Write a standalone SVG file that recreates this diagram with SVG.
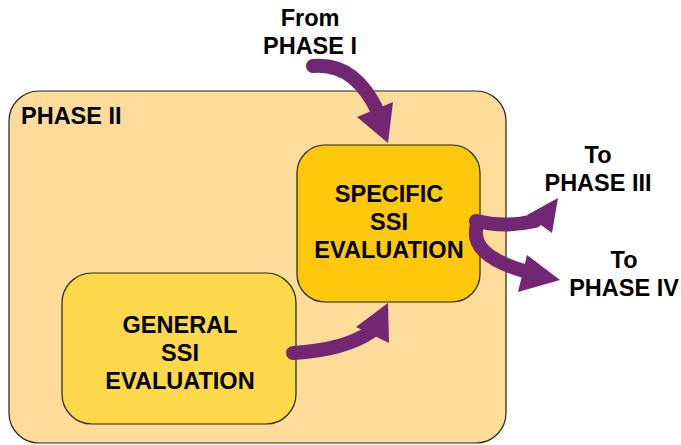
<svg xmlns="http://www.w3.org/2000/svg" width="681" height="445" viewBox="0 0 681 445">
  <style>
    .lbl { font-family: "Liberation Sans", Arial, sans-serif; font-weight: bold; font-size: 23.5px; fill: #000; }
    .mid { text-anchor: middle; }
    .box { stroke: #222; stroke-width: 1.2; }
    .shaft { fill: none; stroke: #722773; stroke-width: 14; stroke-linecap: round; }
    .head { fill: #722773; }
  </style>
  <rect width="681" height="445" fill="#ffffff"/>

  <g id="phase2">
    <rect class="box" x="9" y="91" width="497" height="352" rx="30" fill="#FDDB98"/>
    <text class="lbl" x="21" y="124">PHASE II</text>
  </g>

  <g id="specific">
    <rect class="box" x="297" y="145" width="183" height="157" rx="28" fill="#FDC80C"/>
    <text class="lbl mid" x="389" y="202">SPECIFIC</text>
    <text class="lbl mid" x="389" y="230">SSI</text>
    <text class="lbl mid" x="389" y="258">EVALUATION</text>
  </g>

  <g id="general">
    <rect class="box" x="62" y="273" width="234" height="151" rx="30" fill="#FCD84A"/>
    <text class="lbl mid" x="180" y="333">GENERAL</text>
    <text class="lbl mid" x="180" y="361">SSI</text>
    <text class="lbl mid" x="180" y="389">EVALUATION</text>
  </g>

  <g id="from-phase1">
    <text class="lbl mid" x="310" y="26">From</text>
    <text class="lbl mid" x="310" y="54">PHASE I</text>
  </g>
  <g id="to-phase3">
    <text class="lbl mid" x="598" y="163">To</text>
    <text class="lbl mid" x="598" y="191">PHASE III</text>
  </g>
  <g id="to-phase4">
    <text class="lbl mid" x="624" y="268">To</text>
    <text class="lbl mid" x="624" y="296">PHASE IV</text>
  </g>

  <g id="connectors">
    <!-- from Phase I into specific evaluation -->
    <path class="shaft" d="M 313 66 Q 355 62 378 112"/>
    <polygon class="head" points="357,117 393,102 388,143"/>
    <!-- general to specific -->
    <path class="shaft" d="M 293 353 Q 345 350 372 331"/>
    <polygon class="head" points="356,327 388,303 389,343"/>
    <!-- specific to Phase III -->
    <path class="shaft" d="M 476 221 Q 505 228 535 221"/>
    <polygon class="head" points="527,215 558,198 552,233"/>
    <!-- specific to Phase IV -->
    <path class="shaft" d="M 478 222 Q 465 255 528 272"/>
    <polygon class="head" points="527,255 560,280 518,292"/>
  </g>
</svg>
